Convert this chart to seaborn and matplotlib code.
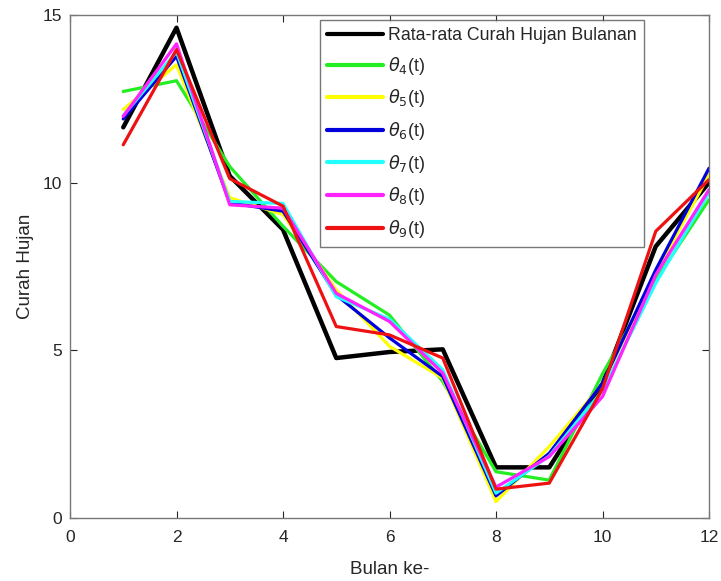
import numpy as np
import pandas as pd
import matplotlib
matplotlib.use("Agg")
import matplotlib.pyplot as plt
import seaborn as sns

months = [1, 2, 3, 4, 5, 6, 7, 8, 9, 10, 11, 12]
rata_rata = [11.65, 14.62, 10.2, 8.6, 4.77, 4.95, 5.03, 1.51, 1.51, 4.0, 8.1, 10.0]
theta4 = [12.72, 13.04, 10.48, 8.7, 7.05, 6.05, 4.07, 1.38, 1.13, 4.3, 7.1, 9.49]
theta5 = [12.18, 13.52, 9.55, 9.05, 6.8, 5.12, 4.17, 0.49, 2.13, 4.0, 7.3, 10.24]
theta6 = [11.9, 13.77, 9.4, 9.15, 6.65, 5.37, 4.22, 0.66, 1.93, 4.02, 7.4, 10.43]
theta7 = [12.0, 13.9, 9.44, 9.38, 6.6, 5.93, 4.42, 0.74, 1.85, 3.8, 7.0, 9.7]
theta8 = [11.98, 14.14, 9.34, 9.24, 6.7, 5.86, 4.32, 0.92, 1.83, 3.62, 7.25, 9.79]
theta9 = [11.13, 13.97, 10.12, 9.3, 5.71, 5.46, 4.77, 0.86, 1.04, 3.85, 8.55, 10.09]

labels = ["Rata-rata Curah Hujan Bulanan", r"$\theta_4$(t)", r"$\theta_5$(t)",
          r"$\theta_6$(t)", r"$\theta_7$(t)", r"$\theta_8$(t)", r"$\theta_9$(t)"]
colors = ["#000000", "#22ee22", "#ffff00", "#0000dd", "#22ffff", "#ff22ff", "#ee1111"]
series = [rata_rata, theta4, theta5, theta6, theta7, theta8, theta9]

sns.set_style("white")
plt.rcParams['font.family'] = ['Liberation Sans', 'DejaVu Sans']
plt.rcParams['mathtext.fontset'] = 'dejavusans'

fig = plt.figure(figsize=(7.21, 5.81), dpi=100)
ax = fig.add_axes([70/721, 1-518/581, (709-70)/721, (518-15)/581])

for lab, col, vals in zip(labels, colors, series):
    lw = 3.2 if col == "#000000" else 2.3
    sns.lineplot(x=months, y=vals, color=col, label=lab, linewidth=lw, ax=ax)

ax.set_xlim(0, 12)
ax.set_ylim(0, 15)
ax.set_xticks([0, 2, 4, 6, 8, 10, 12])
ax.set_yticks([0, 5, 10, 15])
ax.tick_params(direction='in', top=True, right=True, bottom=True, left=True,
               length=5, width=0.8, colors='#262626', labelsize=12.5,
               labelcolor='#262626')
ax.tick_params(axis='x', pad=9)
ax.tick_params(axis='y', pad=6)
for sp in ax.spines.values():
    sp.set_visible(True)
    sp.set_color('#777777')
    sp.set_linewidth(1.0)
ax.set_xlabel("Bulan ke-", fontsize=13.5, color='#262626', labelpad=11)
ax.set_ylabel("Curah Hujan", fontsize=13.5, color='#262626', labelpad=6)

leg = ax.legend(loc='upper left', bbox_to_anchor=((320-70)/639, (518-20)/503),
                borderaxespad=0, fontsize=12.75, handlelength=3.15, handletextpad=0.3,
                labelspacing=0.6, fancybox=False, frameon=True, borderpad=0.4)
leg.get_frame().set_edgecolor('#555555')
leg.get_frame().set_linewidth(1.0)
for line in leg.get_lines():
    line.set_linewidth(3.0)

fig.savefig("out.png", dpi=100)
